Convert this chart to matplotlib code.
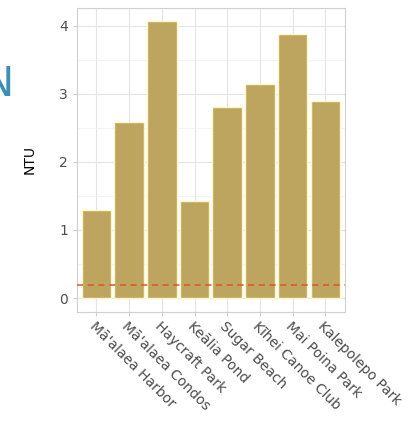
import matplotlib
matplotlib.use("Agg")
import matplotlib.pyplot as plt
from matplotlib.ticker import MultipleLocator

# ── data ──────────────────────────────────────────────────────────────────────
sites = ["Mā'alaea Harbor", "Mā'alaea Condos", "Haycraft Park", "Keālia Pond",
         "Sugar Beach", "Kīhei Canoe Club", "Mai Poina Park", "Kalepolepo Park"]
ntu = [1.30, 2.58, 4.06, 1.42, 2.81, 3.14, 3.87, 2.89]
threshold = 0.19

# ── figure ────────────────────────────────────────────────────────────────────
fig = plt.figure(figsize=(4.2, 4.25), dpi=100)
ax = fig.add_axes([0.183, 0.266, 0.638, 0.716])

x = list(range(1, len(sites) + 1))
ax.bar(x, ntu, width=0.9, color="#BDA560", edgecolor="#FFF6C8",
       linewidth=1.0, zorder=2)
ax.axhline(threshold, color="#DA5628", linestyle=(0, (4, 3)),
           linewidth=1.1, zorder=3)

ymax = max(ntu)
ax.set_xlim(0.4, len(sites) + 0.6)
ax.set_ylim(-0.05 * ymax, 1.05 * ymax)
ax.yaxis.set_major_locator(MultipleLocator(1))
ax.yaxis.set_minor_locator(MultipleLocator(0.5))
ax.set_xticks(x)
ax.set_xticklabels(sites, rotation=-45, ha="left", va="top",
                   rotation_mode="anchor", fontsize=10.8, color="#4D4D4D")

ax.grid(which="major", color="#E4E4E4", linewidth=0.8, zorder=0)
ax.grid(which="minor", axis="y", color="#F0F0F0", linewidth=0.5, zorder=0)
ax.set_axisbelow(True)
for s in ax.spines.values():
    s.set_color("#D0D0D0")
    s.set_linewidth(0.8)
ax.tick_params(axis="both", which="major", length=3, color="#D0D0D0",
               labelsize=10, labelcolor="#4D4D4D")
ax.tick_params(axis="x", pad=2)
ax.tick_params(axis="y", which="minor", length=0)
ax.set_ylabel("NTU", fontsize=10, labelpad=16)

# cropped heading letter at the left edge
fig.text(14 / 420, 1 - 96 / 425, "N", fontsize=29, color="#3A8EB8",
         ha="right", va="baseline")

fig.savefig("out.png", dpi=100)
